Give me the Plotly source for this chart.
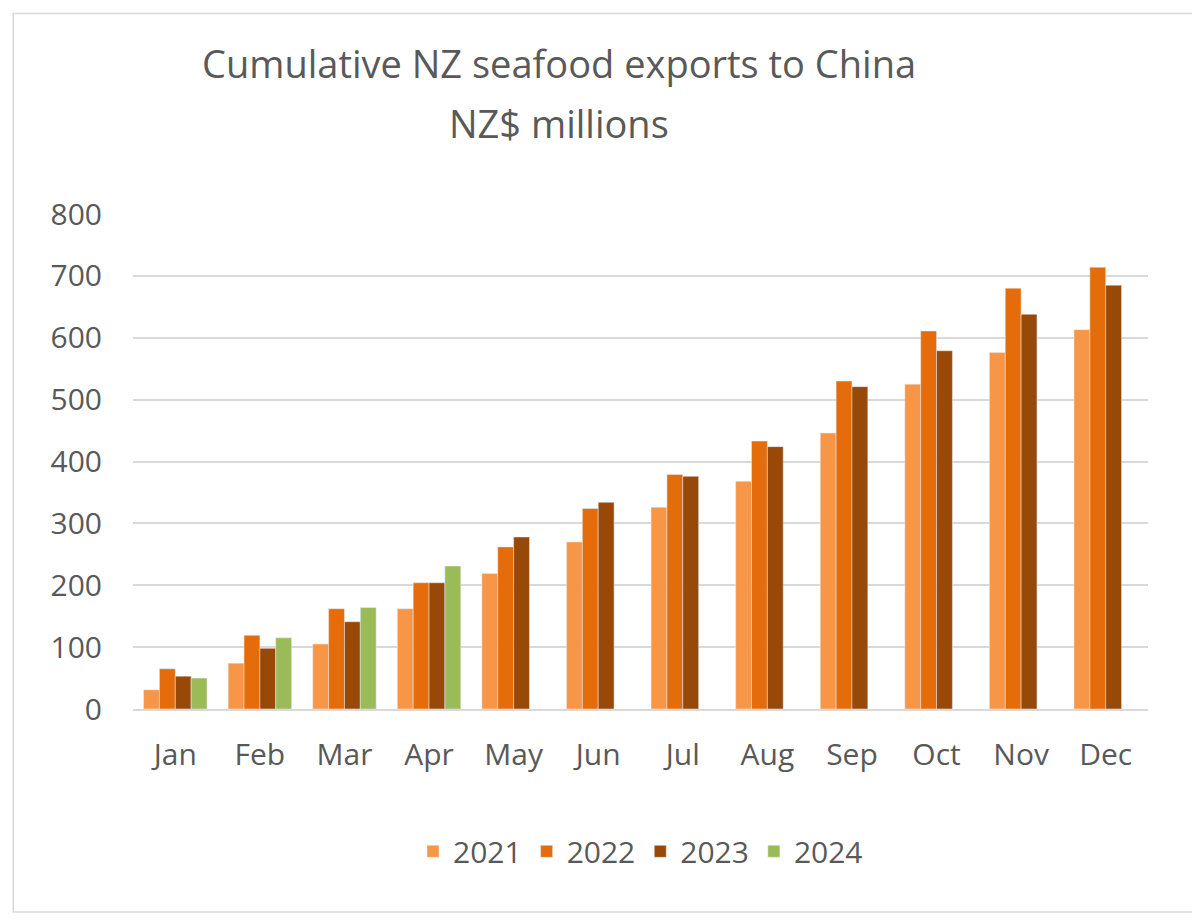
import plotly.graph_objects as go

months = ["Jan", "Feb", "Mar", "Apr", "May", "Jun", "Jul", "Aug", "Sep", "Oct", "Nov", "Dec"]
y2021 = [31, 74, 105, 162, 219, 270, 326, 368, 446, 525, 576, 613]
y2022 = [65, 119, 162, 204, 262, 324, 379, 433, 530, 611, 680, 714]
y2023 = [53, 98, 141, 204, 278, 334, 376, 424, 521, 579, 638, 685]
y2024 = [50, 115, 164, 231]

series = [
    ("2021", y2021, "#F79646"),
    ("2022", y2022, "#E46C0A"),
    ("2023", y2023, "#984807"),
    ("2024", y2024, "#9BBB59"),
]

fig = go.Figure()
for name, vals, col in series:
    fig.add_trace(go.Bar(x=months[:len(vals)], y=vals, name=name, marker_color=col))

title_lines = ["Cumulative NZ seafood exports to China", "NZ$ millions"]

fig.update_layout(
    width=1200, height=920,
    paper_bgcolor="white", plot_bgcolor="white",
    font=dict(family="Open Sans, Liberation Sans, sans-serif", size=30, color="#595959"),
    barmode="group", bargap=0.25, bargroupgap=0,
    margin=dict(l=125, r=60, t=206, b=219),
    legend=dict(orientation="h", x=0.5, xanchor="center", y=-0.235, yanchor="top",
                font=dict(size=30), traceorder="normal"),
    xaxis=dict(categoryorder="array", categoryarray=months, showline=True,
               linecolor="#D9D9D9", linewidth=1.5, ticks="", ticklabelstandoff=18),
    yaxis=dict(range=[0, 800], dtick=100, showgrid=True, gridcolor="#D9D9D9",
               gridwidth=1.5, zeroline=False, ticks="", ticklabelstandoff=30),
    shapes=[dict(type="rect", xref="paper", yref="paper", x0=-0.118, x1=1.05,
                 y0=-0.41, y1=1.405, line=dict(color="#D9D9D9", width=1.5))],
    annotations=[
        dict(text=title_lines[0], xref="paper", yref="paper", x=0.42, y=1.305,
             xanchor="center", yanchor="middle", showarrow=False, font=dict(size=38)),
        dict(text=title_lines[1], xref="paper", yref="paper", x=0.42, y=1.184,
             xanchor="center", yanchor="middle", showarrow=False, font=dict(size=38)),
    ],
)

fig.write_html("out.html")
